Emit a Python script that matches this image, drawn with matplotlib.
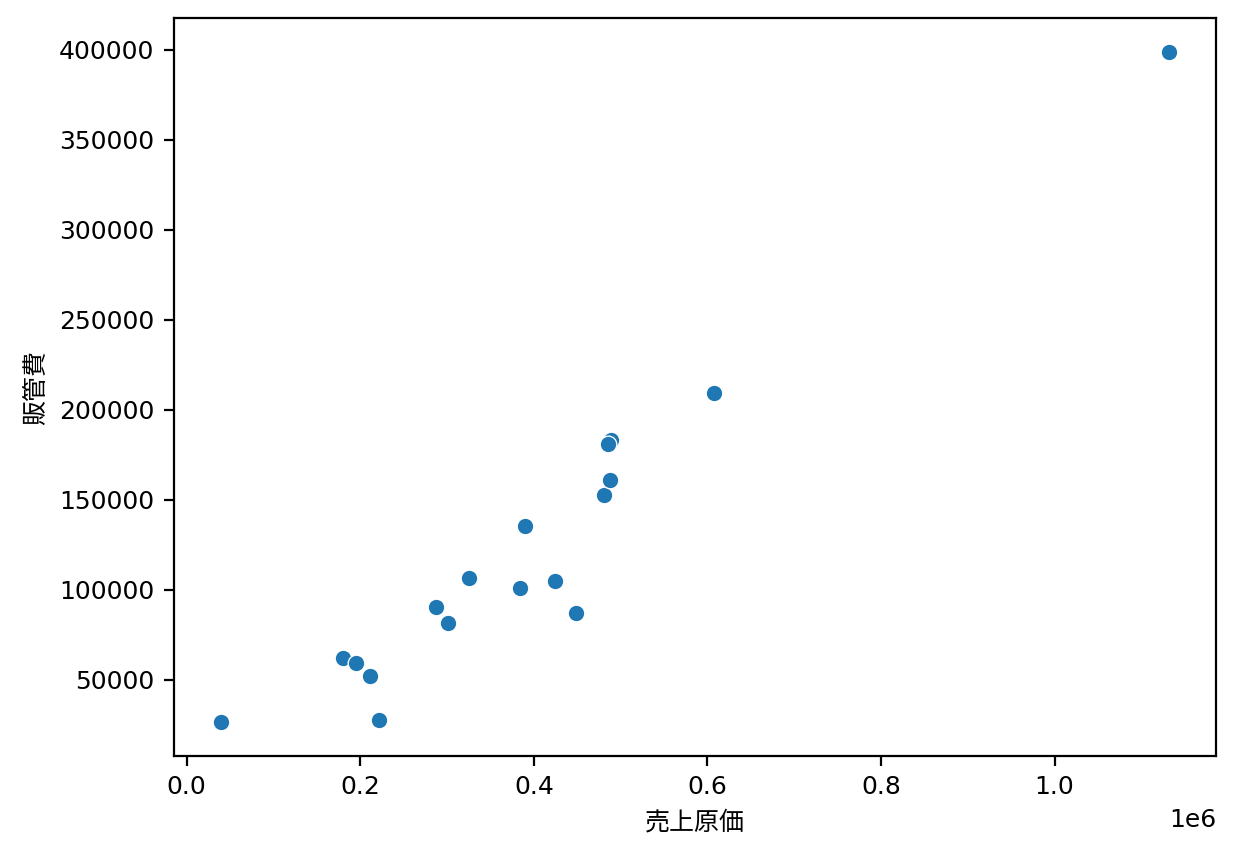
import numpy as np
import pandas as pd
import seaborn as sns
import matplotlib.pyplot as plt

# DejaVu for digits, CJK font as fallback for the Japanese labels
plt.rcParams['font.family'] = ['DejaVu Sans', 'Noto Sans CJK JP']

# 売上原価 (cost of sales) vs 販管費 (SG&A)
cost_of_sales = [39900, 180400, 195000, 211700, 221100, 287100, 300800, 325300, 384400,
                 390000, 423800, 448300, 480400, 487300, 489000, 485100, 607700, 1131500]
sga = [26200, 62100, 59300, 52000, 27400, 90600, 81700, 106300, 100700,
       135300, 104600, 87300, 152700, 161000, 183000, 181000, 209100, 399100]

df = pd.DataFrame({"売上原価": cost_of_sales, "販管費": sga})

fig = plt.figure(figsize=(6.17, 4.28), dpi=200)
ax = fig.add_axes([174 / 1234, 1 - 756 / 856, (1216 - 174) / 1234, (756 - 18) / 856])

sns.scatterplot(data=df, x="売上原価", y="販管費", ax=ax)

ax.tick_params(labelsize=9)
ax.xaxis.get_offset_text().set_fontsize(9)
ax.set_xlabel("売上原価", fontsize=9)
ax.set_ylabel("販管費", fontsize=9)

plt.savefig("out.png", dpi=200)
plt.close()
